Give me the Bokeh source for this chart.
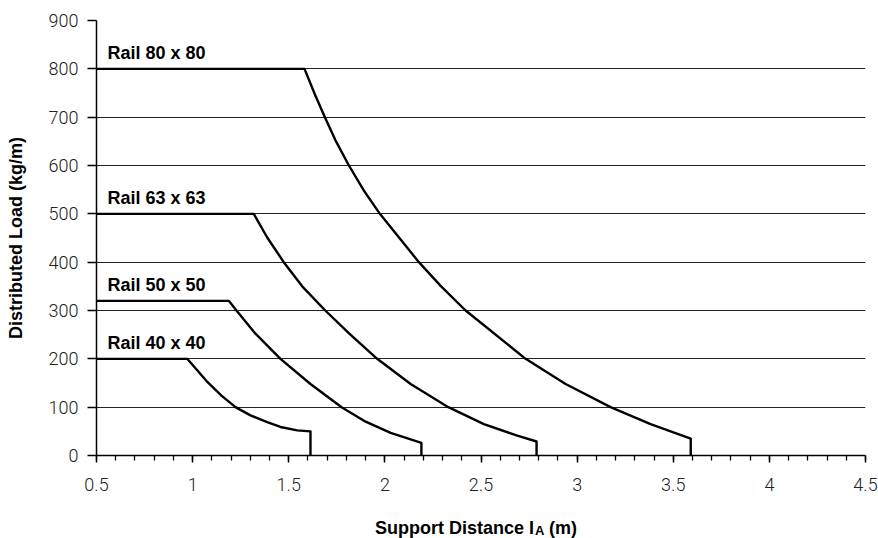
from bokeh.plotting import figure
from bokeh.models import Range1d, FixedTicker, Label
from bokeh.core.properties import value
from bokeh.embed import file_html
from bokeh.resources import INLINE

# ---- data ----
names = ["Rail 80 x 80", "Rail 63 x 63", "Rail 50 x 50", "Rail 40 x 40"]
max_loads = [800, 500, 320, 200]

x_80 = [0.5, 1.582, 1.635, 1.688, 1.743, 1.813, 1.891, 1.974, 2.177, 2.29, 2.42, 2.732, 2.94, 3.174, 3.382, 3.591, 3.591]
y_80 = [800, 800, 748, 700, 652, 600, 548, 500, 400, 351, 300, 200, 148, 100, 65, 35, 0]

x_63 = [0.5, 1.318, 1.388, 1.474, 1.57, 1.69, 1.815, 1.96, 2.134, 2.33, 2.515, 2.689, 2.789, 2.789]
y_63 = [500, 500, 451, 400, 350, 300, 252, 200, 148, 100, 65, 41, 29, 0]

x_50 = [0.5, 1.188, 1.228, 1.327, 1.457, 1.613, 1.775, 1.9, 2.03, 2.19, 2.19]
y_50 = [320, 320, 300, 252, 200, 148, 100, 70, 47, 26, 0]

x_40 = [0.5, 0.972, 1.07, 1.15, 1.223, 1.301, 1.388, 1.457, 1.544, 1.613, 1.613]
y_40 = [200, 200, 155, 124, 100, 83, 69, 59, 52, 50, 0]

x_ticks = [0.5, 1.0, 1.5, 2.0, 2.5, 3.0, 3.5, 4.0, 4.5]
x_tick_labels = ["0.5", "1", "1.5", "2", "2.5", "3", "3.5", "4", "4.5"]
x_minor = [round(0.5 + 0.1 * i, 1) for i in range(41)]
y_ticks = [0, 100, 200, 300, 400, 500, 600, 700, 800, 900]

NB = "\u00a0"
x_title = "Support Distance I" + NB * 3 + "(m)"
x_title_sub = "A"
y_title = "Distributed Load (kg/m)"

BOLDF = "Liberation Sans"
REG = "Roboto Light"

p = figure(width=878, height=538, output_backend="svg", toolbar_location=None,
           x_range=Range1d(x_ticks[0], x_ticks[-1]), y_range=Range1d(y_ticks[0], y_ticks[-1]),
           min_border_left=96, min_border_right=13, min_border_top=20, min_border_bottom=83)
p.outline_line_color = None

xa = p.xaxis[0]
xa.ticker = FixedTicker(ticks=x_ticks, minor_ticks=x_minor)
xa.major_label_overrides = {t: l for t, l in zip(x_ticks, x_tick_labels)}
xa.major_tick_out = 7
xa.major_tick_in = 0
xa.minor_tick_out = 5
xa.minor_tick_in = 0
xa.axis_line_color = "black"
xa.axis_line_width = 1.5
xa.major_tick_line_width = 1.5
xa.minor_tick_line_width = 1.3
xa.major_tick_line_color = "black"
xa.minor_tick_line_color = "black"
xa.major_label_text_font = REG
xa.major_label_text_font_size = "18px"
xa.major_label_text_color = "#222222"
xa.major_label_standoff = 15

ya = p.yaxis[0]
ya.ticker = FixedTicker(ticks=y_ticks)
ya.major_tick_out = 9
ya.major_tick_in = 0
ya.minor_tick_line_color = None
ya.axis_line_color = "black"
ya.axis_line_width = 1.5
ya.major_tick_line_width = 1.3
ya.major_tick_line_color = "black"
ya.major_label_text_font = REG
ya.major_label_text_font_size = "18px"
ya.major_label_text_color = "#222222"
ya.major_label_standoff = 9
ya.axis_label = y_title
ya.axis_label_text_font = BOLDF
ya.axis_label_text_font_style = "bold"
ya.axis_label_text_font_size = "18px"
ya.axis_label_text_color = "black"
ya.axis_label_standoff = 20

p.xgrid.grid_line_color = None
p.ygrid.ticker = FixedTicker(ticks=y_ticks)
p.ygrid.grid_line_color = "#222222"
p.ygrid.grid_line_width = 1.2

for xs, ys in [(x_80, y_80), (x_63, y_63), (x_50, y_50), (x_40, y_40)]:
    p.line(xs, ys, line_color="black", line_width=2.4, line_join="round")

p.text(x=[x_ticks[0]] * len(names), y=max_loads, text=names, x_offset=11, y_offset=-16,
       text_font=value(BOLDF), text_font_style="bold", text_font_size="18px",
       text_color="black", text_baseline="alphabetic", text_align="left")

# x-axis title (with subscript), placed under the axis
lab_font = dict(text_font=BOLDF, text_font_style="bold", text_color="black",
                text_baseline="alphabetic", text_align="left")
p.add_layout(Label(x=1.949, y=-149, text=x_title, text_font_size="18px", **lab_font), "below")
p.add_layout(Label(x=1.949, y=-156, x_offset=160, text=x_title_sub,
                   text_font_size="13px", **lab_font), "below")

open("out.html", "w").write(file_html(p, INLINE))
